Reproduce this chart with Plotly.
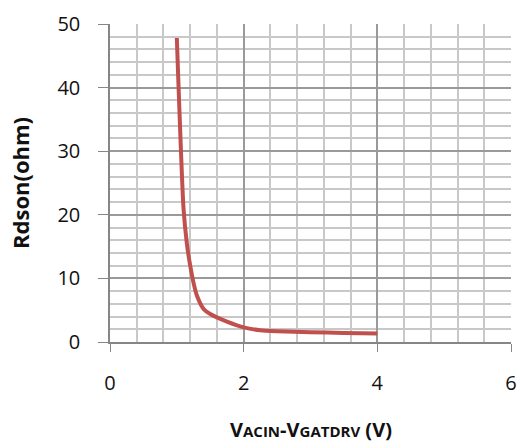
import plotly.graph_objects as go

# Data
v_diff = [1.0, 1.1, 1.15, 1.2, 1.25, 1.3, 1.4, 1.5, 1.75, 2.0, 2.25, 2.5, 3.0, 3.5, 4.0]
rdson = [47.8, 21.0, 15.5, 12.0, 9.3, 7.3, 5.2, 4.4, 3.2, 2.3, 1.85, 1.7, 1.55, 1.42, 1.35]

x_ticks = [0, 2, 4, 6]
y_ticks = [0, 10, 20, 30, 40, 50]

fig = go.Figure()
fig.add_trace(go.Scatter(
    x=v_diff, y=rdson, mode="lines",
    line=dict(color="#C0504D", width=4, shape="spline", smoothing=0.6),
    showlegend=False, hoverinfo="skip",
))

font_family = "Open Sans, Liberation Sans, sans-serif"

fig.update_layout(
    width=520, height=448,
    margin=dict(l=110, r=9, t=24, b=106),
    paper_bgcolor="white", plot_bgcolor="white",
    font=dict(family=font_family, size=20, color="#111111"),
    xaxis=dict(
        range=[0, 6], tickvals=x_ticks, ticktext=[str(t) for t in x_ticks],
        showgrid=True, gridcolor="#9A9A9A", gridwidth=1.5,
        minor=dict(dtick=0.4, showgrid=True, gridcolor="#C8C8C8", gridwidth=1.5),
        showline=True, linecolor="#868686", linewidth=1.5,
        ticks="outside", ticklen=8, tickcolor="#868686",
        ticklabelstandoff=14, automargin=False,
        zeroline=False, fixedrange=True,
    ),
    yaxis=dict(
        range=[0, 50], tickvals=y_ticks, ticktext=[str(t) for t in y_ticks],
        showgrid=True, gridcolor="#9A9A9A", gridwidth=1.5,
        minor=dict(dtick=2, showgrid=True, gridcolor="#C8C8C8", gridwidth=1.5),
        showline=True, linecolor="#868686", linewidth=1.5,
        ticks="outside", ticklen=10, tickcolor="#868686",
        ticklabelstandoff=14, automargin=False,
        zeroline=False, fixedrange=True,
    ),
    annotations=[
        dict(
            text="<b>Rdson(ohm)</b>", xref="paper", yref="paper",
            x=0, y=0.5, xshift=-90, xanchor="center", textangle=-90, showarrow=False,
            font=dict(size=22, family=font_family, color="#111111"),
        ),
        dict(
            text="<b>V<span style='font-size:15px'>ACIN</span>-V<span style='font-size:15px'>GATDRV</span> (V)</b>",
            xref="paper", yref="paper", x=0.5, y=0, yshift=-103,
            showarrow=False,
            font=dict(size=20, family=font_family, color="#111111"),
        ),
    ],
)

# remove the default 8px page margin so the 520x448 figure fills the window
fig.write_html(
    "out.html",
    config={"displayModeBar": False},
    post_script="document.body.style.margin='0';document.body.style.overflow='hidden';",
)
